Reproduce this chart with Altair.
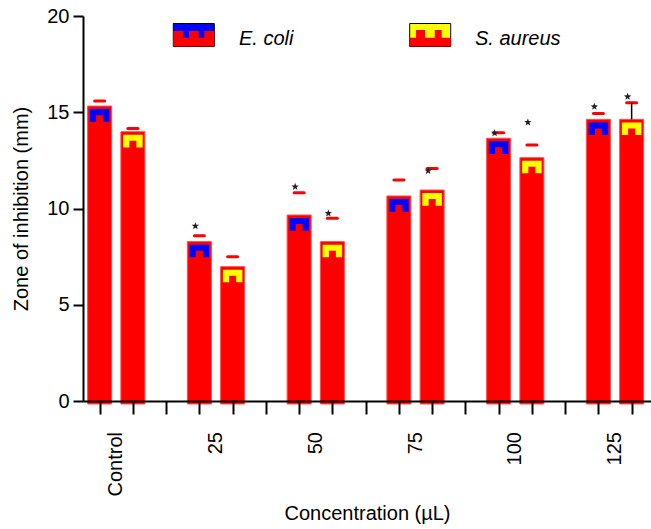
import math
import altair as alt
import pandas as pd

# ---------------- data ----------------
categories = ["Control", "25", "50", "75", "100", "125"]
series_names = ["E. coli", "S. aureus"]
series_colors = ["#0000ff", "#ffff00"]

ecoli_mean = [15.32, 8.28, 9.66, 10.65, 13.65, 14.63]
ecoli_sd = [0.26, 0.31, 1.16, 0.83, 0.29, 0.31]
ecoli_star = [None, 9.09, 11.13, None, 13.92, 15.29]

saureus_mean = [13.99, 6.98, 8.28, 10.96, 12.64, 14.63]
saureus_sd = [0.16, 0.52, 1.21, 1.12, 0.66, 0.87]
saureus_star = [None, None, 9.75, 11.96, 14.48, 15.81]

black_whisker = [("125", "S. aureus")]

y_ticks = [0, 5, 10, 15, 20]

x_title = "Concentration (µL)"
y_title = "Zone of inhibition (mm)"

# ---------------- build tables ----------------
rows = []
for i, cat in enumerate(categories):
    for j, (name, means, sds, stars) in enumerate([
        ("E. coli", ecoli_mean, ecoli_sd, ecoli_star),
        ("S. aureus", saureus_mean, saureus_sd, saureus_star),
    ]):
        slot = 3 * i + j + 0.5
        rows.append({
            "category": cat,
            "series": name,
            "slot": slot,
            "xl": slot - 0.15,
            "xr": slot + 0.15,
            "mean": means[i],
            "upper": means[i] + sds[i],
            "star": stars[i],
            "black": (cat, name) in black_whisker,
        })
df = pd.DataFrame(rows)
cat_df = pd.DataFrame({"category": categories, "pos": [3 * i + 1.0 for i in range(len(categories))]})
legend_df = pd.DataFrame({"series": series_names})

# ---------------- layout / style ----------------
FONT = "Liberation Sans"
SLOT_PX = 33.25
W, H = 568, 385
PAD = {"left": 83, "top": 16, "right": 0, "bottom": 128}
n_slots = 3 * len(categories) - 1

x_scale = alt.Scale(domain=[0, W / SLOT_PX], nice=False, zero=False, padding=0)
x_axis = alt.Axis(values=[k + 0.5 for k in range(n_slots)], labels=False, tickSize=13,
                  tickWidth=2, tickColor="black", domainWidth=2, domainColor="black",
                  grid=False, title=x_title, titleFontSize=20, titleFontWeight="normal",
                  titleColor="black", titlePadding=88, zindex=1)
y_scale = alt.Scale(domain=[0, 20], nice=False, zero=True)
y_axis = alt.Axis(values=y_ticks, tickSize=10, tickWidth=2, tickColor="black",
                  domainWidth=2, domainColor="black", labelFontSize=20, labelColor="black",
                  labelPadding=4, grid=False, title=y_title, titleFontSize=20,
                  titleFontWeight="normal", titleColor="black", titlePadding=15, zindex=1)


def X(field):
    return alt.X(f"{field}:Q", scale=x_scale, axis=x_axis)


def Y(field):
    return alt.Y(f"{field}:Q", scale=y_scale, axis=y_axis)


# bar-top pattern (coloured inverted U) and legend shapes, unit box [-1, 1]
TOP_PATH = ("M-1,-0.65 L1,-0.65 L1,0.65 L0.36,0.65 L0.36,-0.03 L-0.36,-0.03 "
            "L-0.36,0.65 L-1,0.65 Z")
SWATCH_PATH = "M-1,-0.56 L1,-0.56 L1,0.56 L-1,0.56 Z"
TEETH_PATHS = [
    "M-1,0.56 L-1,-0.195 L-0.51,-0.195 L-0.51,0.13 L-0.24,0.13 L-0.24,-0.195 "
    "L0.24,-0.195 L0.24,0.13 L0.51,0.13 L0.51,-0.195 L1,-0.195 L1,0.56 Z",
    "M-1,0.56 L-1,0.13 L-0.69,0.13 L-0.69,-0.24 L-0.25,-0.24 L-0.25,0.13 "
    "L0.22,0.13 L0.22,-0.24 L0.56,-0.24 L0.56,0.13 L1,0.13 L1,0.56 Z",
]
pts = []
for k in range(10):
    r = 1.0 if k % 2 == 0 else 0.42
    a = -math.pi / 2 + k * math.pi / 5
    pts.append(f"{r * math.cos(a):.3f},{r * math.sin(a):.3f}")
STAR_PATH = "M" + " L".join(pts) + " Z"

base = alt.Chart(df)

bars = base.mark_bar(width=24, color="#ff0000", stroke="#ff4d4d", strokeWidth=1,
                     y2Offset=3).encode(x=X("slot"), y=Y("mean"), y2=alt.datum(0))

tops = base.mark_point(shape=TOP_PATH, filled=True, size=380, opacity=1, strokeWidth=0,
                       yOffset=9.35).encode(
    x=X("slot"), y=Y("mean"),
    color=alt.Color("series:N", scale=alt.Scale(domain=series_names, range=series_colors),
                    legend=None))

caps = base.mark_rule(color="#ff0000", strokeWidth=3, strokeCap="round").encode(
    x=X("xl"), x2="xr", y=Y("upper"))

whisk = base.transform_filter("datum.black").mark_rule(color="black", strokeWidth=1.5).encode(
    x=X("slot"), y=Y("mean"), y2="upper")

stars = base.transform_filter("isValid(datum.star)").mark_point(
    shape=STAR_PATH, filled=True, color="#222222", size=60, opacity=1, strokeWidth=0,
    xOffset=-4).encode(x=X("slot"), y=Y("star"))

cat_labels = alt.Chart(cat_df).mark_text(angle=270, align="right", baseline="middle",
                                         fontSize=20, font=FONT, color="black").encode(
    x=X("pos"), y=alt.value(416), text="category:N")

legend_layers = []
swatch_cx = [110.8, 347.2]
text_x = [156, 392]
for k, name in enumerate(series_names):
    ld = alt.Chart(legend_df).transform_filter(alt.datum.series == name)
    legend_layers.append(ld.mark_point(shape=SWATCH_PATH, filled=True, fill=series_colors[k],
                                       stroke="black", strokeWidth=1, size=1681, opacity=1)
                         .encode(x=alt.value(swatch_cx[k]), y=alt.value(19)))
    legend_layers.append(ld.mark_point(shape=TEETH_PATHS[k], filled=True, fill="#ff0000",
                                       strokeWidth=0, size=1681, opacity=1)
                         .encode(x=alt.value(swatch_cx[k]), y=alt.value(19)))
    legend_layers.append(ld.mark_text(align="left", baseline="alphabetic", fontSize=20,
                                      font=FONT, fontStyle="italic", color="black")
                         .encode(x=alt.value(text_x[k]), y=alt.value(29), text="series:N"))

chart = alt.layer(bars, tops, caps, whisk, stars, cat_labels, *legend_layers).properties(
    width=W, height=H, padding=PAD, autosize=alt.AutoSizeParams(type="none"),
    background="white",
).configure_view(stroke=None).configure_axis(labelFont=FONT, titleFont=FONT)

chart.save("out.html", embed_options={"renderer": "svg", "actions": False})
